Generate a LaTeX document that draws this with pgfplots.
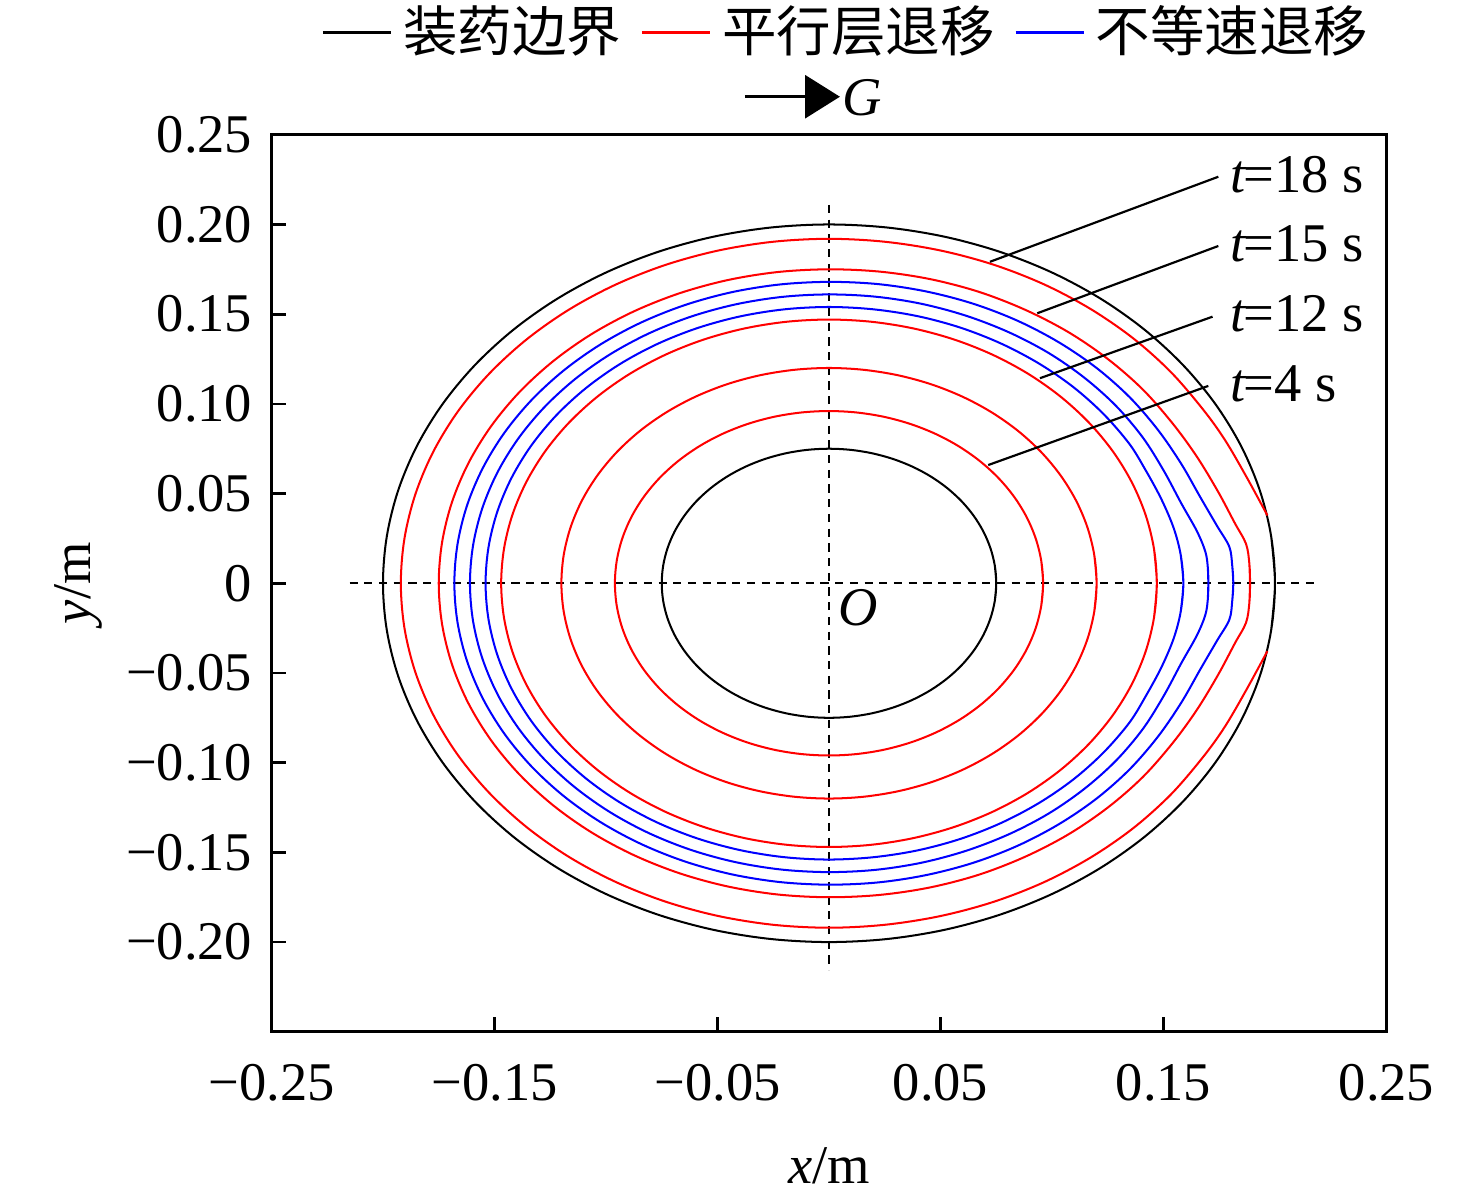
\documentclass[border=0pt]{standalone}
\usepackage{fontspec}
\setmainfont{Liberation Serif}
\newfontfamily\cjk{Noto Sans CJK SC}
\usepackage{pgfplots}
\pgfplotsset{compat=1.18}
\usetikzlibrary{arrows.meta}

\begin{document}
\begin{tikzpicture}
\begin{axis}[
  width=204.6pt, height=164.6pt, scale only axis,
  xmin=-0.25, xmax=0.25, ymin=-0.25, ymax=0.25,
  axis line style={line width=0.55pt},
  xtick={-0.25,-0.15,-0.05,0.05,0.15,0.25},
  xticklabels={−0.25,−0.15,−0.05,0.05,0.15,0.25},
  ytick={-0.2,-0.15,-0.1,-0.05,0,0.05,0.1,0.15,0.2,0.25},
  yticklabels={−0.20,−0.15,−0.10,−0.05,0,0.05,0.10,0.15,0.20,0.25},
  tick align=inside, xtick pos=left, ytick pos=left,
  major tick length=2.75pt,
  every tick/.style={black, line width=0.5pt},
  xticklabel style={yshift=-2.5pt},
  xlabel={\textit{x}/m}, ylabel={\textit{y}/m},
  xlabel style={at={(axis description cs:0.5,-0.149)}, anchor=center},
  ylabel style={at={(axis description cs:-0.173,0.5)}, anchor=center},
  clip=false,
  legend columns=3,
  legend style={draw=none, fill=none, at={(axis description cs:0.044,1.114)}, anchor=west, inner sep=0pt,
    /tikz/every even column/.append style={column sep=1.6pt}},
  legend image code/.code={\draw[#1] (0pt,0pt) -- (12.5pt,0pt);},
  every axis plot/.append style={line join=round},
]
\addlegendimage{black, line width=0.45pt}
\addlegendentry{\cjk 装药边界}
\addlegendimage{red, line width=0.45pt}
\addlegendentry{\cjk 平行层退移}
\addlegendimage{blue, line width=0.45pt}
\addlegendentry{\cjk 不等速退移}

% dashed axes through origin
\addplot[black, line width=0.4pt, dash pattern=on 1.5pt off 1.2pt, forget plot] coordinates {(-0.215,0) (0.219,0)};
\addplot[black, line width=0.4pt, dash pattern=on 1.5pt off 1.2pt, forget plot] coordinates {(0,0.2109) (0,-0.2156)};

% charge boundaries (black)
\addplot[black, line width=0.37pt, smooth, tension=0.55, forget plot] coordinates {
(0.19829,-0.02611)
(0.2,0) (0.19829,0.02611) (0.19319,0.05176) (0.18478,0.07654) (0.17321,0.1) (0.15867,0.12175) (0.14142,0.14142) (0.12175,0.15867) (0.1,0.17321) (0.07654,0.18478) (0.05176,0.19319) (0.02611,0.19829)
(0,0.2) (-0.02611,0.19829) (-0.05176,0.19319) (-0.07654,0.18478) (-0.1,0.17321) (-0.12175,0.15867) (-0.14142,0.14142) (-0.15867,0.12175) (-0.17321,0.1) (-0.18478,0.07654) (-0.19319,0.05176) (-0.19829,0.02611)
(-0.2,0) (-0.19829,-0.02611) (-0.19319,-0.05176) (-0.18478,-0.07654) (-0.17321,-0.1) (-0.15867,-0.12175) (-0.14142,-0.14142) (-0.12175,-0.15867) (-0.1,-0.17321) (-0.07654,-0.18478) (-0.05176,-0.19319) (-0.02611,-0.19829)
(0,-0.2) (0.02611,-0.19829) (0.05176,-0.19319) (0.07654,-0.18478) (0.1,-0.17321) (0.12175,-0.15867) (0.14142,-0.14142) (0.15867,-0.12175) (0.17321,-0.1) (0.18478,-0.07654) (0.19319,-0.05176) (0.19829,-0.02611) (0.2,0)
(0.19829,0.02611)};
\addplot[black, line width=0.37pt, smooth, tension=0.55, forget plot] coordinates {
(0.07436,-0.00979)
(0.075,0) (0.07436,0.00979) (0.07244,0.01941) (0.06929,0.0287) (0.06495,0.0375) (0.0595,0.04566) (0.05303,0.05303) (0.04566,0.0595) (0.0375,0.06495) (0.0287,0.06929) (0.01941,0.07244) (0.00979,0.07436)
(0,0.075) (-0.00979,0.07436) (-0.01941,0.07244) (-0.0287,0.06929) (-0.0375,0.06495) (-0.04566,0.0595) (-0.05303,0.05303) (-0.0595,0.04566) (-0.06495,0.0375) (-0.06929,0.0287) (-0.07244,0.01941) (-0.07436,0.00979)
(-0.075,0) (-0.07436,-0.00979) (-0.07244,-0.01941) (-0.06929,-0.0287) (-0.06495,-0.0375) (-0.0595,-0.04566) (-0.05303,-0.05303) (-0.04566,-0.0595) (-0.0375,-0.06495) (-0.0287,-0.06929) (-0.01941,-0.07244) (-0.00979,-0.07436)
(0,-0.075) (0.00979,-0.07436) (0.01941,-0.07244) (0.0287,-0.06929) (0.0375,-0.06495) (0.04566,-0.0595) (0.05303,-0.05303) (0.0595,-0.04566) (0.06495,-0.0375) (0.06929,-0.0287) (0.07244,-0.01941) (0.07436,-0.00979) (0.075,0)
(0.07436,0.00979)};

% parallel layer recession (red)
\addplot[red, line width=0.37pt, smooth, tension=0.55, forget plot] coordinates {
(0.09518,-0.01253)
(0.096,0) (0.09518,0.01253) (0.09273,0.02485) (0.08869,0.03674) (0.08314,0.048) (0.07616,0.05844) (0.06788,0.06788) (0.05844,0.07616) (0.048,0.08314) (0.03674,0.08869) (0.02485,0.09273) (0.01253,0.09518)
(0,0.096) (-0.01253,0.09518) (-0.02485,0.09273) (-0.03674,0.08869) (-0.048,0.08314) (-0.05844,0.07616) (-0.06788,0.06788) (-0.07616,0.05844) (-0.08314,0.048) (-0.08869,0.03674) (-0.09273,0.02485) (-0.09518,0.01253)
(-0.096,0) (-0.09518,-0.01253) (-0.09273,-0.02485) (-0.08869,-0.03674) (-0.08314,-0.048) (-0.07616,-0.05844) (-0.06788,-0.06788) (-0.05844,-0.07616) (-0.048,-0.08314) (-0.03674,-0.08869) (-0.02485,-0.09273) (-0.01253,-0.09518)
(0,-0.096) (0.01253,-0.09518) (0.02485,-0.09273) (0.03674,-0.08869) (0.048,-0.08314) (0.05844,-0.07616) (0.06788,-0.06788) (0.07616,-0.05844) (0.08314,-0.048) (0.08869,-0.03674) (0.09273,-0.02485) (0.09518,-0.01253) (0.096,0)
(0.09518,0.01253)};
\addplot[red, line width=0.37pt, smooth, tension=0.55, forget plot] coordinates {
(0.11897,-0.01566)
(0.12,0) (0.11897,0.01566) (0.11591,0.03106) (0.11087,0.04592) (0.10392,0.06) (0.0952,0.07305) (0.08485,0.08485) (0.07305,0.0952) (0.06,0.10392) (0.04592,0.11087) (0.03106,0.11591) (0.01566,0.11897)
(0,0.12) (-0.01566,0.11897) (-0.03106,0.11591) (-0.04592,0.11087) (-0.06,0.10392) (-0.07305,0.0952) (-0.08485,0.08485) (-0.0952,0.07305) (-0.10392,0.06) (-0.11087,0.04592) (-0.11591,0.03106) (-0.11897,0.01566)
(-0.12,0) (-0.11897,-0.01566) (-0.11591,-0.03106) (-0.11087,-0.04592) (-0.10392,-0.06) (-0.0952,-0.07305) (-0.08485,-0.08485) (-0.07305,-0.0952) (-0.06,-0.10392) (-0.04592,-0.11087) (-0.03106,-0.11591) (-0.01566,-0.11897)
(0,-0.12) (0.01566,-0.11897) (0.03106,-0.11591) (0.04592,-0.11087) (0.06,-0.10392) (0.07305,-0.0952) (0.08485,-0.08485) (0.0952,-0.07305) (0.10392,-0.06) (0.11087,-0.04592) (0.11591,-0.03106) (0.11897,-0.01566) (0.12,0)
(0.11897,0.01566)};
\addplot[red, line width=0.37pt, smooth, tension=0.55, forget plot] coordinates {
(0.14574,-0.01919)
(0.147,0) (0.14574,0.01919) (0.14199,0.03805) (0.13581,0.05625) (0.12731,0.0735) (0.11662,0.08949) (0.10394,0.10394) (0.08949,0.11662) (0.0735,0.12731) (0.05625,0.13581) (0.03805,0.14199) (0.01919,0.14574)
(0,0.147) (-0.01919,0.14574) (-0.03805,0.14199) (-0.05625,0.13581) (-0.0735,0.12731) (-0.08949,0.11662) (-0.10394,0.10394) (-0.11662,0.08949) (-0.12731,0.0735) (-0.13581,0.05625) (-0.14199,0.03805) (-0.14574,0.01919)
(-0.147,0) (-0.14574,-0.01919) (-0.14199,-0.03805) (-0.13581,-0.05625) (-0.12731,-0.0735) (-0.11662,-0.08949) (-0.10394,-0.10394) (-0.08949,-0.11662) (-0.0735,-0.12731) (-0.05625,-0.13581) (-0.03805,-0.14199) (-0.01919,-0.14574)
(0,-0.147) (0.01919,-0.14574) (0.03805,-0.14199) (0.05625,-0.13581) (0.0735,-0.12731) (0.08949,-0.11662) (0.10394,-0.10394) (0.11662,-0.08949) (0.12731,-0.0735) (0.13581,-0.05625) (0.14199,-0.03805) (0.14574,-0.01919) (0.147,0)
(0.14574,0.01919)};
\addplot[red, line width=0.37pt, smooth, tension=0.55, forget plot] coordinates {
(0.1885,-0.011)
(0.1888,0) (0.1885,0.011) (0.1870,0.022) (0.1820,0.0335) (0.1745,0.0510) (0.1650,0.0705) (0.15415,0.089) (0.14074,0.10799) (0.12502,0.12502) (0.10739,0.13995) (0.088,0.15242) (0.06728,0.16242) (0.04542,0.16952) (0.02287,0.1737)
(0,0.175) (-0.02284,0.1735) (-0.04529,0.16904) (-0.06697,0.16168) (-0.0875,0.15155) (-0.10653,0.13884) (-0.12374,0.12374) (-0.13884,0.10653) (-0.15155,0.0875) (-0.16168,0.06697) (-0.16904,0.04529) (-0.1735,0.02284)
(-0.175,0) (-0.1735,-0.02284) (-0.16904,-0.04529) (-0.16168,-0.06697) (-0.15155,-0.0875) (-0.13884,-0.10653) (-0.12374,-0.12374) (-0.10653,-0.13884) (-0.0875,-0.15155) (-0.06697,-0.16168) (-0.04529,-0.16904) (-0.02284,-0.1735)
(0,-0.175) (0.02287,-0.1737) (0.04542,-0.16952) (0.06728,-0.16242) (0.088,-0.15242) (0.10739,-0.13995) (0.12502,-0.12502) (0.14074,-0.10799) (0.15415,-0.089) (0.1650,-0.0705) (0.1745,-0.0510) (0.1820,-0.0335) (0.1870,-0.022) (0.1885,-0.011) (0.1888,0)
(0.1885,0.011)};
\addplot[red, line width=0.37pt, smooth, tension=0.55, forget plot] coordinates {
(0.1966,0.0378) (0.1873,0.0591) (0.1776,0.0798) (0.16775,0.09685) (0.15335,0.11767) (0.13647,0.13647) (0.11731,0.15288) (0.09625,0.16671) (0.07359,0.17766) (0.04972,0.18556) (0.02506,0.19036)
(0,0.192) (-0.02506,0.19036) (-0.04969,0.18546) (-0.07348,0.17739) (-0.096,0.16628) (-0.11688,0.15232) (-0.13576,0.13576) (-0.15232,0.11688) (-0.16628,0.096) (-0.17739,0.07348) (-0.18546,0.04969) (-0.19036,0.02506)
(-0.192,0) (-0.19036,-0.02506) (-0.18546,-0.04969) (-0.17739,-0.07348) (-0.16628,-0.096) (-0.15232,-0.11688) (-0.13576,-0.13576) (-0.11688,-0.15232) (-0.096,-0.16628) (-0.07348,-0.17739) (-0.04969,-0.18546) (-0.02506,-0.19036)
(0,-0.192) (0.02506,-0.19036) (0.04972,-0.18556) (0.07359,-0.17766) (0.09625,-0.16671) (0.11731,-0.15288) (0.13647,-0.13647) (0.15335,-0.11767) (0.16775,-0.09685) (0.1776,-0.0798) (0.1873,-0.0591) (0.1966,-0.0378)};

% non-uniform recession (blue)
\addplot[blue, line width=0.37pt, smooth, tension=0.55, forget plot] coordinates {
(0.1577,-0.0160)
(0.1589,0) (0.1577,0.0160) (0.1545,0.0310) (0.1490,0.0470) (0.1420,0.0630) (0.13467,0.07775) (0.12305,0.09442) (0.10946,0.10946) (0.09405,0.12257) (0.07715,0.13363) (0.05901,0.14246) (0.03988,0.14885) (0.0201,0.15268)
(0,0.154) (-0.0201,0.15268) (-0.03986,0.14875) (-0.05893,0.14228) (-0.077,0.13337) (-0.09375,0.12218) (-0.10889,0.10889) (-0.12218,0.09375) (-0.13337,0.077) (-0.14228,0.05893) (-0.14875,0.03986) (-0.15268,0.0201)
(-0.154,0) (-0.15268,-0.0201) (-0.14875,-0.03986) (-0.14228,-0.05893) (-0.13337,-0.077) (-0.12218,-0.09375) (-0.10889,-0.10889) (-0.09375,-0.12218) (-0.077,-0.13337) (-0.05893,-0.14228) (-0.03986,-0.14875) (-0.0201,-0.15268)
(0,-0.154) (0.0201,-0.15268) (0.03988,-0.14885) (0.05901,-0.14246) (0.07715,-0.13363) (0.09405,-0.12257) (0.10946,-0.10946) (0.12305,-0.09442) (0.13467,-0.07775) (0.1420,-0.0630) (0.1490,-0.0470) (0.1545,-0.0310) (0.1577,-0.0160) (0.1589,0)
(0.1577,0.0160)};
\addplot[blue, line width=0.37pt, smooth, tension=0.55, forget plot] coordinates {
(0.1699,-0.0085)
(0.1701,0) (0.1699,0.0085) (0.1688,0.0175) (0.1650,0.0290) (0.1580,0.0445) (0.1500,0.0630) (0.14073,0.08125) (0.12876,0.0988) (0.11455,0.11455) (0.0985,0.12836) (0.08075,0.13986) (0.06173,0.14902) (0.04172,0.15571) (0.02103,0.15972)
(0,0.161) (-0.02102,0.15962) (-0.04167,0.15551) (-0.06161,0.14875) (-0.0805,0.13943) (-0.09801,0.12773) (-0.11384,0.11384) (-0.12773,0.09801) (-0.13943,0.0805) (-0.14875,0.06161) (-0.15551,0.04167) (-0.15962,0.02102)
(-0.161,0) (-0.15962,-0.02102) (-0.15551,-0.04167) (-0.14875,-0.06161) (-0.13943,-0.0805) (-0.12773,-0.09801) (-0.11384,-0.11384) (-0.09801,-0.12773) (-0.0805,-0.13943) (-0.06161,-0.14875) (-0.04167,-0.15551) (-0.02102,-0.15962)
(0,-0.161) (0.02103,-0.15972) (0.04172,-0.15571) (0.06173,-0.14902) (0.08075,-0.13986) (0.0985,-0.12836) (0.11455,-0.11455) (0.12876,-0.0988) (0.14073,-0.08125) (0.1500,-0.0630) (0.1580,-0.0445) (0.1650,-0.0290) (0.1688,-0.0175) (0.1699,-0.0085) (0.1701,0)
(0.1699,0.0085)};
\addplot[blue, line width=0.37pt, smooth, tension=0.55, forget plot] coordinates {
(0.1808,-0.0102)
(0.1813,0) (0.1808,0.0102) (0.1795,0.0204) (0.1740,0.0320) (0.1665,0.0480) (0.1580,0.0665) (0.14766,0.08525) (0.13495,0.10355) (0.12,0.12) (0.10306,0.13432) (0.0845,0.14636) (0.06456,0.15586) (0.04358,0.16266) (0.02195,0.16676)
(0,0.168) (-0.02193,0.16656) (-0.04348,0.16228) (-0.06429,0.15521) (-0.084,0.14549) (-0.10227,0.13328) (-0.11879,0.11879) (-0.13328,0.10227) (-0.14549,0.084) (-0.15521,0.06429) (-0.16228,0.04348) (-0.16656,0.02193)
(-0.168,0) (-0.16656,-0.02193) (-0.16228,-0.04348) (-0.15521,-0.06429) (-0.14549,-0.084) (-0.13328,-0.10227) (-0.11879,-0.11879) (-0.10227,-0.13328) (-0.084,-0.14549) (-0.06429,-0.15521) (-0.04348,-0.16228) (-0.02193,-0.16656)
(0,-0.168) (0.02195,-0.16676) (0.04358,-0.16266) (0.06456,-0.15586) (0.0845,-0.14636) (0.10306,-0.13432) (0.12,-0.12) (0.13495,-0.10355) (0.14766,-0.08525) (0.1580,-0.0665) (0.1665,-0.0480) (0.1740,-0.0320) (0.1795,-0.0204) (0.1808,-0.0102) (0.1813,0)
(0.1808,0.0102)};

% annotations
\draw[line width=0.4pt] (axis cs:0.0722,0.1792) -- (axis cs:0.1746,0.2266);
\draw[line width=0.4pt] (axis cs:0.0934,0.1505) -- (axis cs:0.1746,0.1880);
\draw[line width=0.4pt] (axis cs:0.0946,0.1143) -- (axis cs:0.1720,0.1486);
\draw[line width=0.4pt] (axis cs:0.0714,0.0659) -- (axis cs:0.1701,0.1100);
\node[anchor=base west, inner sep=0pt] at (axis cs:0.1795,0.2176) {\textit{t}\kern-0.5pt=18 s};
\node[anchor=base west, inner sep=0pt] at (axis cs:0.1795,0.1793) {\textit{t}\kern-0.5pt=15 s};
\node[anchor=base west, inner sep=0pt] at (axis cs:0.1795,0.1402) {\textit{t}\kern-0.5pt=12 s};
\node[anchor=base west, inner sep=0pt] at (axis cs:0.1795,0.1012) {\textit{t}\kern-0.5pt=4 s};
\node at (axis cs:0.013,-0.0135) {\textit{O}};
\draw[-{Triangle[length=6.4pt,width=7.9pt]}, line width=0.5pt] (axis cs:-0.0377,0.2712) -- (axis cs:0.0049,0.2712);
\node[anchor=west, inner sep=0.3pt] at (axis cs:0.0049,0.2705) {\textit{G}};

\coordinate (bbbl) at (axis cs:-0.37175,-0.33818);
\coordinate (bbtr) at (axis cs:0.29013,0.32514);
\end{axis}
\pgfresetboundingbox
\path[use as bounding box] (bbbl) rectangle (bbtr);
\end{tikzpicture}
\end{document}
